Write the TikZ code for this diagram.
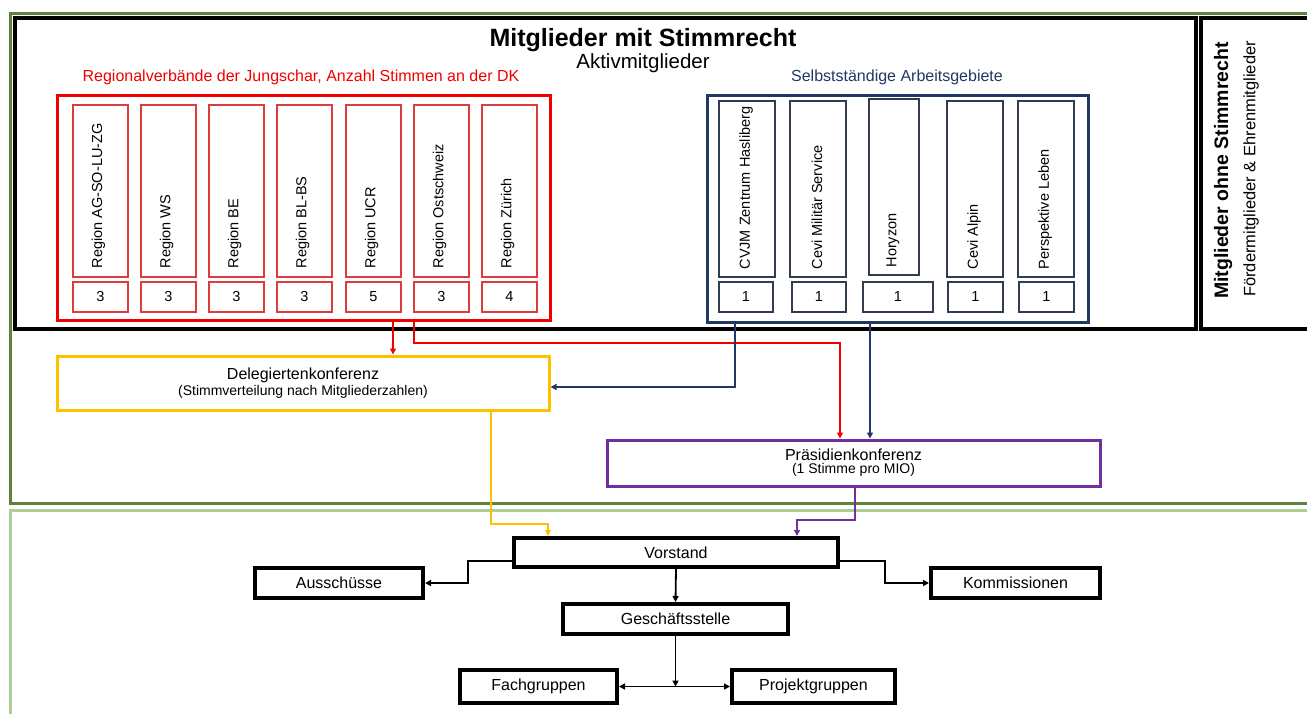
\documentclass[tikz,border=0pt]{standalone}
\usepackage{fontspec}
\setmainfont{Liberation Sans}
\usetikzlibrary{arrows.meta,calc,fit}
\definecolor{dgreen}{RGB}{96,128,62}
\definecolor{lgreen}{RGB}{172,208,146}
\definecolor{rred}{RGB}{240,0,0}
\definecolor{lred}{RGB}{222,60,60}
\definecolor{navy}{RGB}{31,56,100}
\definecolor{ngray}{RGB}{50,60,80}
\definecolor{gold}{RGB}{255,192,0}
\definecolor{purp}{RGB}{112,48,160}
\newcommand{\fsz}[1]{\fontsize{#1}{#1}\selectfont}
\begin{document}
\begin{tikzpicture}[x=1pt,y=-1pt,
  frame/.style={draw, inner sep=0pt},
  rbox/.style={frame, draw=lred, line width=1.3pt},
  nbox/.style={frame, draw=ngray, line width=1.3pt},
  rottxt/.style={rotate=90, anchor=west, inner sep=0pt, font=\fsz{14.5}},
  numtxt/.style={font=\fsz{14.5}},
  orgbox/.style={frame, line width=4pt, font=\fsz{16}},
  tip/.style={-{Triangle[length=6pt,width=6pt]}},
  redcon/.style={tip, draw=rred, line width=2pt},
  navycon/.style={tip, draw=navy, line width=1.6pt},
  goldcon/.style={tip, draw=gold, line width=2pt},
  purpcon/.style={tip, draw=purp, line width=2pt},
  blkcon/.style={tip, draw=black, line width=1.8pt}]
\useasboundingbox (0,0) rectangle (1307,713);
\clip (0,0) rectangle (1307,713);

% outer frames
\node[frame, draw=dgreen, line width=3pt, fit={(10,13) (1330,503)}] (voting) {};
\node[frame, draw=lgreen, line width=3pt, fit={(10,510) (1330,740)}] (lead) {};
\node[frame, line width=4pt, fit={(15,18) (1196,329)}] (mit) {};
\node[frame, line width=4pt, fit={(1201,18) (1330,329)}] (ohne) {};

% titles
\node[font=\fsz{25}\bfseries] (title) at (643,40) {Mitglieder mit Stimmrecht};
\node[font=\fsz{20.5}] (aktiv) at (643,63) {Aktivmitglieder};
\node[font=\fsz{16}, text=rred] (rlabel) at (301,77) {Regionalverbände der Jungschar, Anzahl Stimmen an der DK};
\node[font=\fsz{16}, text=navy] (blabel) at (897,77) {Selbstständige Arbeitsgebiete};

% right column
\node[rotate=90, anchor=west, inner sep=0pt, font=\fsz{19.5}\bfseries] (ohnet) at (1223,299) {Mitglieder ohne Stimmrecht};
\node[rotate=90, anchor=west, inner sep=0pt, font=\fsz{16.5}] (ohnes) at (1251,297) {Fördermitglieder \& Ehrenmitglieder};

% regional boxes
\node[frame, draw=rred, line width=3pt, fit={(57,95) (550,320)}] (red) {};
\foreach \i/\x/\t/\n in {1/73/Region AG-SO-LU-ZG/3, 2/141/Region WS/3, 3/209/Region BE/3,
  4/277/Region BL-BS/3, 5/346/Region UCR/5, 6/414/Region Ostschweiz/3, 7/482/Region Zürich/4}{
  \node[rbox, fit={(\x,105) (\x+55,277)}] (reg\i) {};
  \node[rottxt] (regt\i) at ($(reg\i.south)+(-2,-9)$) {\t};
  \node[rbox, numtxt, fit={(\x,282) (\x+55,312)}] (regn\i) {};
  \node[numtxt] at (regn\i.center) {\n};
}

% independent areas
\node[frame, draw=navy, line width=3pt, fit={(707,95) (1088,322)}] (blue) {};
\foreach \i/\xa/\xb/\ya/\yb/\na/\nb/\t in {1/719/775/101/277/719/773/CVJM Zentrum Hasliberg,
  2/790/846/101/277/792/846/Cevi Militär Service, 3/869/919/99/275/863/933/Horyzon,
  4/947/1003/101/277/948/1003/Cevi Alpin, 5/1018/1074/101/277/1019/1074/Perspektive Leben}{
  \node[nbox, fit={(\xa,\ya) (\xb,\yb)}] (ag\i) {};
  \node[rottxt] (agt\i) at ($(ag\i.south)+(-1,-8)$) {\t};
  \node[nbox, fit={(\na,282) (\nb,312)}] (agn\i) {};
  \node[numtxt] at (agn\i.center) {1};
}

% conferences
\node[frame, draw=gold, line width=3pt, fit={(57,356) (549,410)}] (dk) {};
\node[align=center, inner sep=0pt] (dkt) at (dk.center) {{\fsz{16}Delegiertenkonferenz}\\[1pt]{\fsz{14}(Stimmverteilung nach Mitgliederzahlen)}};
\node[frame, draw=purp, line width=3pt, fit={(607,440) (1100,486)}] (pk) {};
\node[align=center, inner sep=0pt] (pkt) at (pk.center) {{\fsz{16}Präsidienkonferenz}\\[1pt]{\fsz{14}(1 Stimme pro MIO)}};

% leadership
\node[orgbox, fit={(514,538) (838,567)}] (vs) {};
\node[font=\fsz{16}] at (vs.center) {Vorstand};
\node[orgbox, fit={(255,568) (423,598)}] (au) {};
\node[font=\fsz{16}] at (au.center) {Ausschüsse};
\node[orgbox, fit={(931,568) (1100,598)}] (ko) {};
\node[font=\fsz{16}] at (ko.center) {Kommissionen};
\node[orgbox, fit={(563,604) (788,634)}] (gs) {};
\node[font=\fsz{16}] at (gs.center) {Geschäftsstelle};
\node[orgbox, fit={(460,670) (617,703)}] (fg) {};
\node[font=\fsz{16}] at (fg.center) {Fachgruppen};
\node[orgbox, fit={(732,670) (895,703)}] (pg) {};
\node[font=\fsz{16}] at (pg.center) {Projektgruppen};

% connector guide coordinates
\coordinate (xr1) at (393,0);
\coordinate (xr2) at (414,0);
\coordinate (xr3) at (840,0);
\coordinate (yr2) at (0,343);
\coordinate (xb1) at (735,0);
\coordinate (yb1) at (0,387);
\coordinate (xb2) at (870,0);
\coordinate (xy1) at (491,0);
\coordinate (xy2) at (548,0);
\coordinate (yy) at (0,524);
\coordinate (xp1) at (855,0);
\coordinate (xp2) at (797,0);
\coordinate (yp) at (0,520);
\coordinate (yv) at (0,561);
\coordinate (xa) at (468,0);
\coordinate (xk) at (885,0);

% connectors
\draw[redcon] (red.south -| xr1) -- (dk.north -| xr1);
\draw[redcon] (red.south -| xr2) -- (xr2 |- yr2) -- (xr3 |- yr2) -- (pk.north -| xr3);
\draw[navycon] (blue.south -| xb1) -- (xb1 |- yb1) -- (dk.east |- yb1);
\draw[navycon] (blue.south -| xb2) -- (pk.north -| xb2);
\draw[goldcon] (dk.south -| xy1) -- (xy1 |- yy) -- (xy2 |- yy) -- (vs.north -| xy2);
\draw[purpcon] (pk.south -| xp1) -- (xp1 |- yp) -- (xp2 |- yp) -- (vs.north -| xp2);
\draw[blkcon] (vs.west |- yv) -- (xa |- yv) -- (xa |- au.east) -- (au.east);
\draw[blkcon] (vs.east |- yv) -- (xk |- yv) -- (xk |- ko.west) -- (ko.west);
\draw[blkcon] (vs.south) -- (gs.north);
\draw[blkcon] (gs.south) -- (gs.south |- fg.east);
\draw[blkcon, {Triangle[length=6pt,width=6pt]}-{Triangle[length=6pt,width=6pt]}] (fg.east) -- (pg.west);
\end{tikzpicture}
\end{document}
